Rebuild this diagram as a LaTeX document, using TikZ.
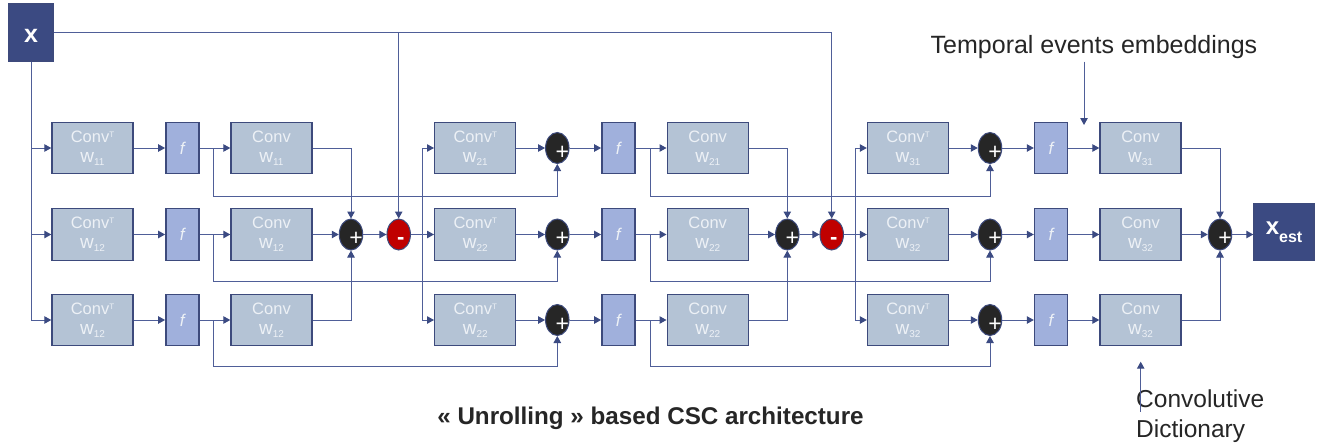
\documentclass[tikz,border=0pt]{standalone}
\usepackage{fontspec}
\setmainfont{Liberation Sans}
\usetikzlibrary{arrows.meta,shapes.geometric,calc}
\definecolor{boxfill}{HTML}{B4C3D5}
\definecolor{boxdraw}{HTML}{3D4A7C}
\definecolor{ffill}{HTML}{A0B0DC}
\definecolor{navy}{HTML}{3B4A82}
\definecolor{wirec}{HTML}{4F5E98}
\definecolor{boxtext}{HTML}{EDF1F6}
\definecolor{sumfill}{HTML}{262626}
\definecolor{minfill}{HTML}{C00000}
\definecolor{labeltext}{HTML}{262626}
\newcommand\wsub[1]{{\fontsize{19}{20}\selectfont w}\raisebox{-3pt}{\fontsize{10}{10}\selectfont #1}}
\newcommand\convT[1]{Conv\raisebox{5pt}{\fontsize{8}{8}\selectfont T}\\\wsub{#1}}
\newcommand\convN[1]{Conv\\\wsub{#1}}
\newcommand\plussign{\smash{\makebox[0pt]{\hspace*{10pt}\raisebox{-11pt}{+}}}}
\newcommand\minussign{\smash{\makebox[0pt]{\hspace*{4pt}\raisebox{-9.5pt}{\bfseries -}}}}
\begin{document}
\begin{tikzpicture}[x=1pt,y=-1pt,
 conv/.style={draw=boxdraw,line width=1.4pt,fill=boxfill,minimum width=81pt,minimum height=51.5pt,inner sep=0pt,text=boxtext,align=center,font=\fontsize{16.5}{20}\selectfont},
 fbox/.style={draw=boxdraw,line width=1.4pt,fill=ffill,minimum width=33pt,minimum height=51.5pt,inner sep=0pt,text=boxtext,font=\fontsize{17}{17}\selectfont\itshape},
 sumnode/.style={ellipse,draw=boxdraw,line width=1pt,fill=sumfill,minimum width=23.5pt,minimum height=31pt,inner sep=0pt,text=white,font=\fontsize{23}{23}\selectfont},
 minnode/.style={sumnode,fill=minfill,font=\fontsize{22}{22}\selectfont},
 io/.style={draw=boxdraw,line width=1.4pt,fill=navy,inner sep=0pt,text=white},
 wire/.style={draw=wirec,line width=1pt},
 arr/.style={wire,-{Triangle[length=7pt,width=7.5pt,color=navy]}},
 lbl/.style={text=labeltext}
]
\fill[white] (0,0) rectangle (1320,447);
\useasboundingbox (0,0) rectangle (1320,447);

% input / output
\node[io,minimum width=44pt,minimum height=57pt,font=\bfseries\fontsize{25}{25}\selectfont] (X) at (31,32.5) {\smash{\raisebox{-9.5pt}{x}}};
\node[io,minimum width=60pt,minimum height=56.6pt,font=\bfseries\fontsize{24}{24}\selectfont] (Xest) at (1284,232) {x\raisebox{-8pt}{\fontsize{16}{16}\selectfont est}};

% rows
\foreach \i/\y/\sa/\sb/\sc in {1/148/11/21/31,2/234.5/12/22/32,3/320/12/22/32} {
 \node[conv] (ta\i) at (92.5,\y) {\convT{\sa}};
 \node[fbox] (fa\i) at (182.3,\y) {f};
 \node[conv] (ca\i) at (271.5,\y) {\convN{\sa}};
 \coordinate (ka\i) at (213,\y);
 \node[conv] (tb\i) at (475.2,\y) {\convT{\sb}};
 \node[sumnode] (pb\i) at (557.3,\y) {\plussign};
 \node[fbox] (fb\i) at (618.3,\y) {f};
 \node[conv] (cb\i) at (707.7,\y) {\convN{\sb}};
 \coordinate (kb\i) at (650,\y);
 \node[conv] (tc\i) at (908,\y) {\convT{\sc}};
 \node[sumnode] (pc\i) at (990,\y) {\plussign};
 \node[fbox] (fc\i) at (1051,\y) {f};
 \node[conv] (cc\i) at (1140.5,\y) {\convN{\sc}};
}

\node[sumnode] (sa) at (351,234.5) {\plussign};
\node[minnode] (ma) at (398.7,234.5) {\minussign};
\node[sumnode] (sb) at (787.3,234.5) {\plussign};
\node[minnode] (mb) at (831.7,234.5) {\minussign};
\node[sumnode] (sc) at (1220,234.5) {\plussign};

\coordinate (kb) at (422,234.5);
\coordinate (kc) at (855,234.5);

% row connectors
\foreach \i/\d in {1/48,2/46.5,3/46.7} {
 \draw[arr] (X.south) |- (ta\i.west);
 \draw[arr] (ta\i.east) -- (fa\i.west);
 \draw[arr] (fa\i.east) -- (ca\i.west);
 \draw[arr] (ka\i) -- ++(0,\d) -| (pb\i.south);
 \draw[arr] (tb\i.east) -- (pb\i.west);
 \draw[arr] (pb\i.east) -- (fb\i.west);
 \draw[arr] (fb\i.east) -- (cb\i.west);
 \draw[arr] (kb\i) -- ++(0,\d) -| (pc\i.south);
 \draw[arr] (tc\i.east) -- (pc\i.west);
 \draw[arr] (pc\i.east) -- (fc\i.west);
 \draw[arr] (fc\i.east) -- (cc\i.west);
}

% layer 1 sum
\draw[arr] (ca1.east) -| (sa.north);
\draw[arr] (ca3.east) -| (sa.south);
\draw[arr] (ca2.east) -- (sa.west);
\draw[arr] (sa.east) -- (ma.west);
% input to subtractions
\draw[arr] (X.east) -| (mb.north);
\coordinate (xa) at (ma.north |- X.east);
\draw[arr] (xa) -- (ma.north);
% layer 2 fan-out
\draw[arr] (ma.east) -- (tb2.west);
\draw[arr] (kb) |- (tb1.west);
\draw[arr] (kb) |- (tb3.west);
% layer 2 sum
\draw[arr] (cb1.east) -| (sb.north);
\draw[arr] (cb3.east) -| (sb.south);
\draw[arr] (cb2.east) -- (sb.west);
\draw[arr] (sb.east) -- (mb.west);
% layer 3 fan-out
\draw[arr] (mb.east) -- (tc2.west);
\draw[arr] (kc) |- (tc1.west);
\draw[arr] (kc) |- (tc3.west);
% output sum
\draw[arr] (cc1.east) -| (sc.north);
\draw[arr] (cc3.east) -| (sc.south);
\draw[arr] (cc2.east) -- (sc.west);
\draw[arr] (sc.east) -- (sc.east -| Xest.west);

% labels
\node[lbl,anchor=base,font=\fontsize{25}{25}\selectfont] (tee) at (1094,53) {Temporal events embeddings};
\coordinate (teeB) at (1084,125);
\draw[arr] (tee.south -| teeB) -- (teeB);

\node[lbl,anchor=north west,inner sep=0pt,align=left,font=\fontsize{24.5}{29.7}\selectfont] (cd) at (1136,389.5) {Convolutive\\Dictionary};
\coordinate (cdA) at (1140.7,411.7);
\coordinate (cdB) at (1140.7,361.7);
\draw[arr] (cdA) -- (cdB);

\node[lbl,anchor=base,font=\bfseries\fontsize{24.2}{24}\selectfont] (title) at (650.5,424.3) {« Unrolling » based CSC architecture};
\end{tikzpicture}
\end{document}
